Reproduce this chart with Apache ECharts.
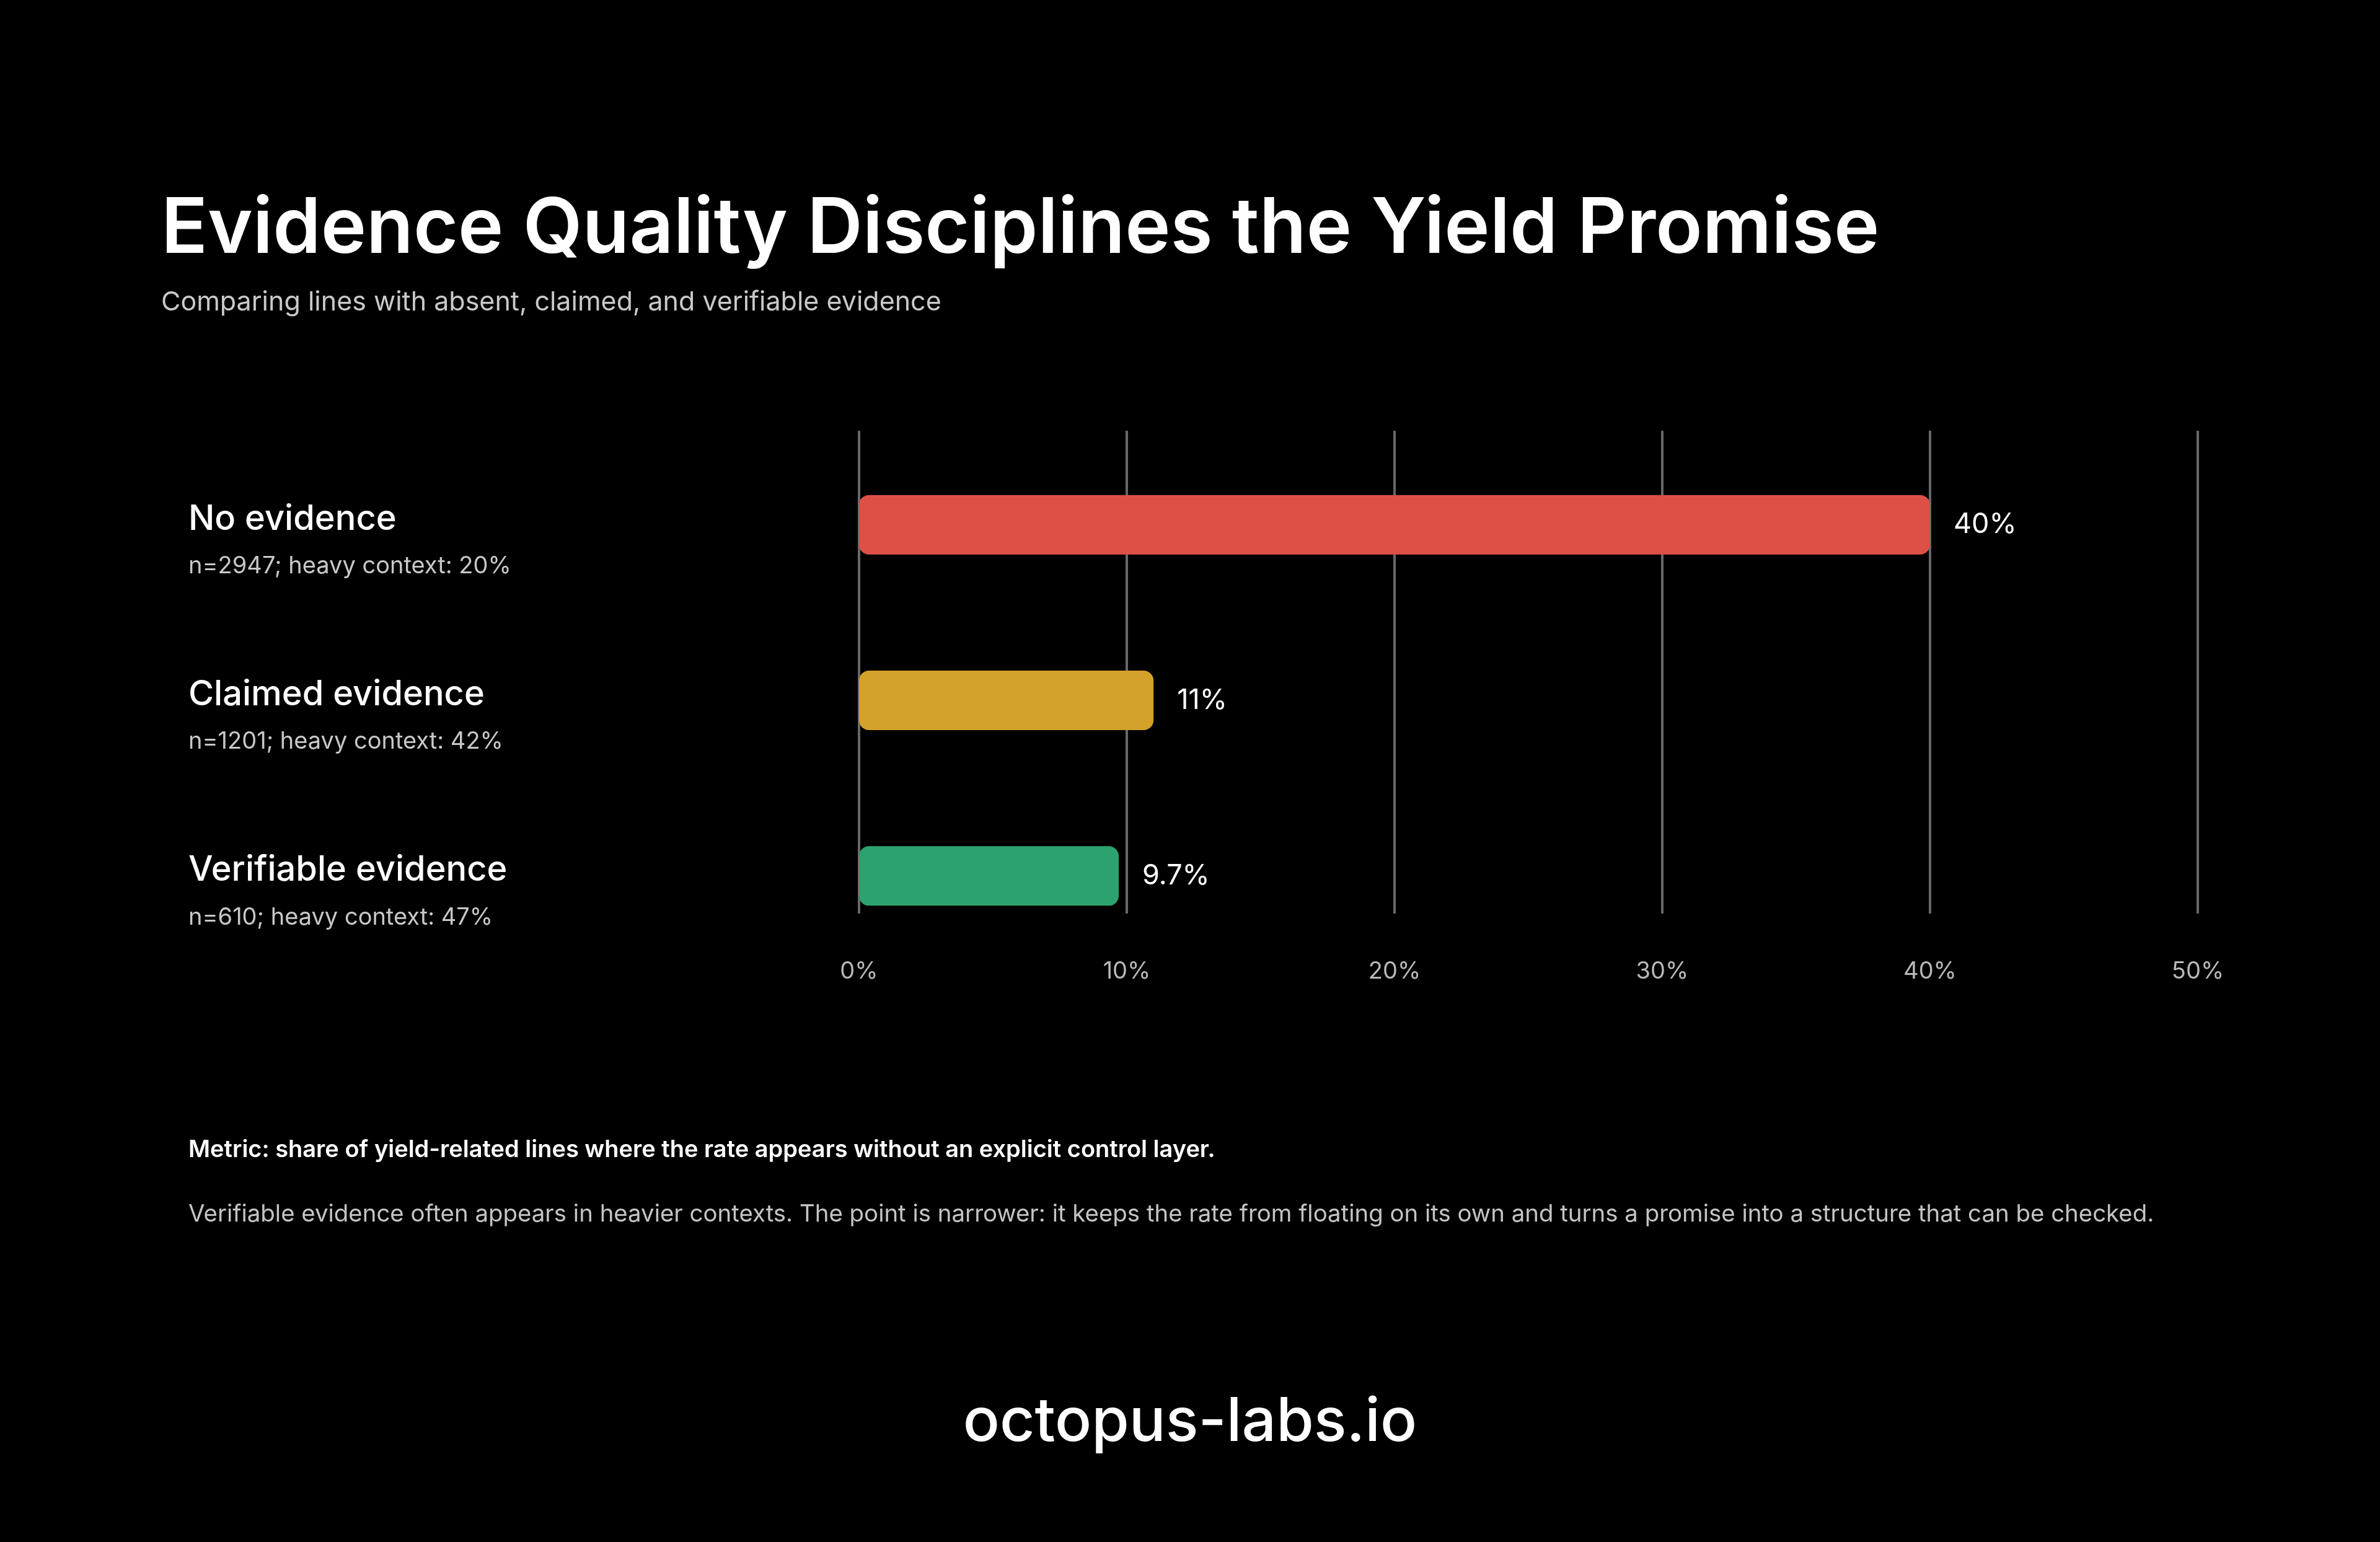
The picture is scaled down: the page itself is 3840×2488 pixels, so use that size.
<!DOCTYPE html>
<html>
<head>
<meta charset="utf-8">
<script src="https://cdn.jsdelivr.net/npm/echarts@6/dist/echarts.min.js"></script>
<style>
html,body{margin:0;padding:0;background:#000;}
#chart{width:3840px;height:2488px;}
</style>
</head>
<body>
<div id="chart"></div>
<script>
const categories = ['No evidence', 'Claimed evidence', 'Verifiable evidence'];
const shareValues = [40, 11, 9.7];
const sampleSizes = [2947, 1201, 610];
const heavyContext = [20, 42, 47];
const barColors = ['#DE4F45', '#D4A12A', '#2CA36E'];
const tickValues = [0, 10, 20, 30, 40, 50];

const titleText = 'Evidence Quality Disciplines the Yield Promise';
const subtitleText = 'Comparing lines with absent, claimed, and verifiable evidence';
const metricText = 'Metric: share of yield-related lines where the rate appears without an explicit control layer.';
const noteText = 'Verifiable evidence often appears in heavier contexts. The point is narrower: it keeps the rate from floating on its own and turns a promise into a structure that can be checked.';
const footerText = 'octopus-labs.io';

const chart = echarts.init(document.getElementById('chart'));
const FONT = 'Inter, "Noto Sans", sans-serif';

chart.setOption({
  backgroundColor: '#000000',
  animation: false,
  textStyle: { fontFamily: FONT },
  grid: [
    { left: 1386, right: 294, top: 705, bottom: 933, containLabel: false },
    { left: 1386, right: 294, top: 695, bottom: 1014, containLabel: false }
  ],
  xAxis: [
    { gridIndex: 0, type: 'value', min: 0, max: 50, interval: 10, show: false },
    {
      gridIndex: 1, type: 'value', min: 0, max: 50, interval: 10,
      axisLine: { show: false }, axisTick: { show: false },
      splitLine: { show: true, lineStyle: { color: '#67676c', width: 4 } },
      axisLabel: {
        color: '#b8b8b8', fontSize: 38, fontFamily: FONT, margin: 75,
        formatter: v => tickValues.includes(v) ? v + '%' : ''
      }
    }
  ],
  yAxis: [
    {
      gridIndex: 0, type: 'category', data: categories, inverse: true,
      axisLine: { show: false }, axisTick: { show: false }, splitLine: { show: false },
      axisLabel: {
        align: 'left', margin: 1082, padding: [58, 0, 0, 0],
        formatter: (val, idx) => '{t|' + val + '}\n{s|n=' + sampleSizes[idx] + '; heavy context: ' + heavyContext[idx] + '%}',
        rich: {
          t: { fontSize: 56, fontWeight: 500, color: '#ffffff', lineHeight: 76, fontFamily: FONT },
          s: { fontSize: 38, fontWeight: 400, color: '#c8c8c8', lineHeight: 76, fontFamily: FONT }
        }
      }
    },
    { gridIndex: 1, type: 'category', data: categories, show: false }
  ],
  series: [{
    type: 'bar',
    xAxisIndex: 0, yAxisIndex: 0,
    barWidth: 96,
    data: shareValues.map((v, i) => ({ value: v, itemStyle: { color: barColors[i] } })),
    itemStyle: { borderRadius: 16 },
    label: {
      show: true, position: 'right', distance: 38,
      color: '#ffffff', fontSize: 45, fontFamily: FONT,
      formatter: p => p.value + '%'
    },
    z: 5
  }],
  graphic: [
    { type: 'text', left: 260, top: 309, style: { text: titleText, fill: '#ffffff', font: '600 124px ' + FONT } },
    { type: 'text', left: 260, top: 467, style: { text: subtitleText, fill: '#c9c9c9', font: '400 43px ' + FONT } },
    { type: 'text', left: 304, top: 1837, style: { text: metricText, fill: '#ffffff', font: '600 38px ' + FONT } },
    { type: 'text', left: 304, top: 1940, style: { text: noteText, fill: '#c4c4c4', font: '400 38.4px ' + FONT } },
    { type: 'text', left: 'center', top: 2247, style: { text: footerText, fill: '#ffffff', font: '500 98px ' + FONT } }
  ]
});
</script>
</body>
</html>
